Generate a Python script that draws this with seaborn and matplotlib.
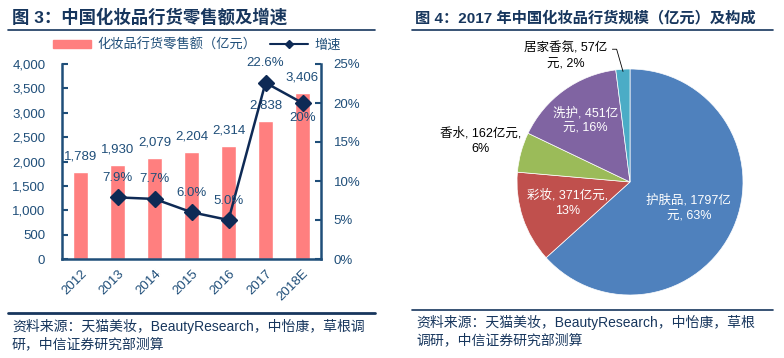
import numpy as np
import seaborn as sns
import matplotlib.pyplot as plt
from matplotlib.lines import Line2D
from matplotlib.patches import Patch
from matplotlib.ticker import MultipleLocator, FuncFormatter

# ---- data ----
years = ['2012', '2013', '2014', '2015', '2016', '2017', '2018E']
sales = [1789, 1930, 2079, 2204, 2314, 2838, 3406]
growth = [np.nan, 7.9, 7.7, 6.0, 5.0, 22.6, 20.0]
growth_labels = ['', '7.9%', '7.7%', '6.0%', '5.0%', '22.6%', '20%']

segments = ['护肤品', '彩妆', '香水', '洗护', '居家香氛']
segment_values = [1797, 371, 162, 451, 57]
segment_labels = ['护肤品, 1797亿\n元, 63%', '彩妆, 371亿元,\n13%', '香水, 162亿元,\n6%',
                  '洗护, 451亿\n元, 16%', '居家香氛, 57亿\n元, 2%']

# ---- style ----
sns.set_style('white')
plt.rcParams['font.family'] = ['Liberation Sans', 'Noto Sans CJK SC']
plt.rcParams['axes.unicode_minus'] = False

NAVY = '#1F4E79'
DARK = '#17365D'
LINE = '#0E2A55'
BAR = '#FF7F7F'
PIE_COLORS = ['#4F81BD', '#C0504D', '#9BBB59', '#8064A2', '#4BACC6']

W, H = 784, 358


def px(x0, y0, w, h):
    return [x0 / W, 1 - (y0 + h) / H, w / W, h / H]


def hline(x0, x1, y, lw):
    fig.add_artist(Line2D([x0 / W, x1 / W], [1 - y / H, 1 - y / H],
                          transform=fig.transFigure, color=DARK, lw=lw))


fig = plt.figure(figsize=(W / 100, H / 100), dpi=100)

# ---- left panel: bars + growth line ----
ax = fig.add_axes(px(62, 64, 259, 195))
sns.barplot(x=years, y=sales, color=BAR, width=0.4, saturation=1, ax=ax)
ax.set_xlim(-0.5, len(years) - 0.5)
ax.set_ylim(0, 4000)
ax.yaxis.set_major_locator(MultipleLocator(500))
ax.yaxis.set_major_formatter(FuncFormatter(lambda v, p: f'{v:,.0f}'))
ax.set_xlabel('')
ax.set_ylabel('')
ax.set_xticks(range(len(years)))
ax.set_xticklabels(years, rotation=45, ha='right', rotation_mode='anchor')
ax.set_xticks(np.arange(-0.5, len(years), 1), minor=True)
ax.tick_params(axis='x', which='major', length=0, pad=6, labelsize=9.5, labelcolor=NAVY)
ax.tick_params(axis='x', which='minor', direction='out', length=4, width=1.5, color=NAVY)
ax.tick_params(axis='y', direction='in', length=4, width=1.5, color=NAVY,
               labelsize=9.5, labelcolor=NAVY, pad=12)

for i, v in enumerate(sales):
    ax.annotate(f'{v:,}', (i, v), xytext=(0, 11), textcoords='offset points',
                ha='center', va='center', fontsize=9.5, color=NAVY)

ax2 = ax.twinx()
ax2.plot(range(len(years)), growth, color=LINE, lw=1.8, marker='D', markersize=8)
ax2.set_ylim(0, 25)
ax2.yaxis.set_major_locator(MultipleLocator(5))
ax2.yaxis.set_major_formatter(FuncFormatter(lambda v, p: f'{v:.0f}%'))
ax2.tick_params(axis='y', direction='in', length=4, width=1.5, color=NAVY,
                labelsize=9.5, labelcolor=NAVY, pad=9)

for i, (g, lab) in enumerate(zip(growth, growth_labels)):
    if np.isnan(g):
        continue
    dy = -11 if years[i] == '2018E' else 14
    ax2.annotate(lab, (i, g), xytext=(0, dy), textcoords='offset points',
                 ha='center', va='center', fontsize=9.5, color=NAVY)

for a in (ax, ax2):
    a.spines['top'].set_visible(False)
    for s in a.spines.values():
        s.set_color(NAVY)
        s.set_linewidth(1.8)
ax.spines['right'].set_visible(False)
ax2.spines['left'].set_visible(False)
ax2.spines['bottom'].set_visible(False)

handles = [Patch(color=BAR),
           Line2D([], [], color=LINE, lw=1.5, marker='D', markersize=4)]
fig.legend(handles, ['化妆品行货零售额（亿元）', '增速'], loc='center',
           bbox_to_anchor=(197 / W, 1 - 45 / H), ncol=2, frameon=False,
           handlelength=2.9, handleheight=0.5, columnspacing=1.0, handletextpad=0.5,
           fontsize=9.5, labelcolor=NAVY)

fig.text(12 / W, 1 - 17 / H, '图 3：中国化妆品行货零售额及增速', fontsize=12.5,
         fontweight='bold', color=DARK, va='center')
hline(8, 375, 30, 1.2)
hline(8, 375, 313, 2.0)
fig.text(12 / W, 1 - 319 / H, '资料来源：天猫美妆，BeautyResearch，中怡康，草根调\n研，中信证券研究部测算',
         fontsize=10, color=DARK, va='top', linespacing=1.25)

# ---- right panel: pie ----
axp = fig.add_axes(px(517, 69, 226, 226))
wedges, _ = axp.pie(segment_values, colors=PIE_COLORS, startangle=90, counterclock=False,
                    wedgeprops=dict(edgecolor='white', linewidth=0.5))
axp.set_xlim(-1, 1)
axp.set_ylim(-1, 1)

label_r = [0.57, 0.58, 1.37, 0.67]
label_c = ['white', 'white', 'black', 'white']
for w, lab, r, c in zip(wedges[:4], segment_labels[:4], label_r, label_c):
    ang = np.deg2rad((w.theta1 + w.theta2) / 2)
    axp.text(r * np.cos(ang), r * np.sin(ang), lab, ha='center', va='center',
             fontsize=9, color=c, linespacing=1.4)

w = wedges[4]
ang = np.deg2rad((w.theta1 + w.theta2) / 2)
axp.annotate(segment_labels[4], (0.98 * np.cos(ang), 0.98 * np.sin(ang)),
             xytext=(-41, 11), textcoords='offset points', ha='center', va='center',
             fontsize=9, color='black', linespacing=1.4,
             arrowprops=dict(arrowstyle='-', color='black', lw=0.6, shrinkA=1, shrinkB=0,
                             relpos=(1, 0.75),
                             connectionstyle='angle,angleA=0,angleB=-74,rad=0'))

fig.text(415 / W, 1 - 18 / H, '图 4：2017 年中国化妆品行货规模（亿元）及构成', fontsize=11,
         fontweight='bold', color=DARK, va='center')
hline(412, 773, 30, 1.2)
hline(412, 773, 310, 1.2)
fig.text(416 / W, 1 - 315 / H, '资料来源：天猫美妆，BeautyResearch，中怡康，草根\n调研，中信证券研究部测算',
         fontsize=10, color=DARK, va='top', linespacing=1.3)

fig.savefig('out.png', dpi=100)
